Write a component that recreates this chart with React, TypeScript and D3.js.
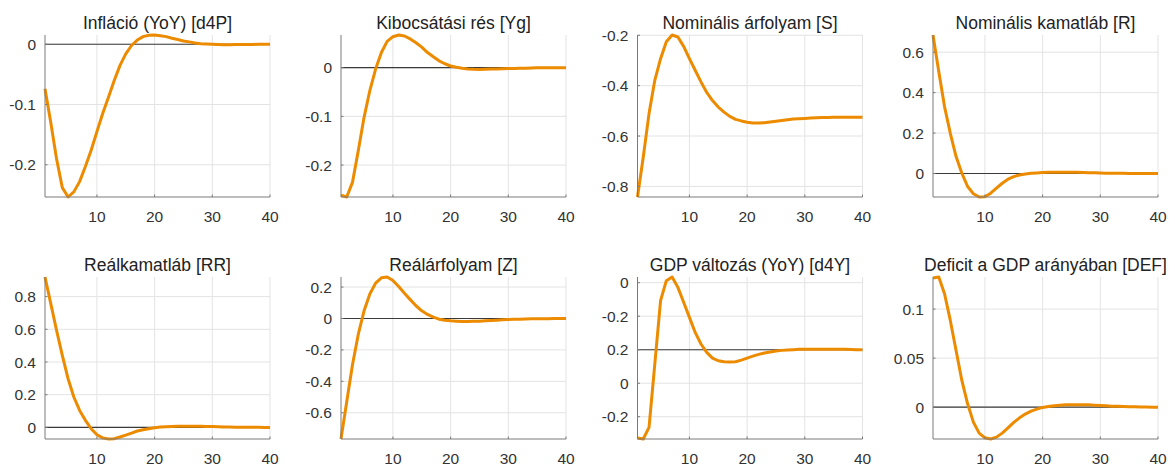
import React from "react";
import * as d3 from "d3";

// impulse responses, quarters 1..40
const periods = d3.range(1, 41);

const inflation = [
  -0.074, -0.13, -0.19, -0.238, -0.2535, -0.245, -0.228, -0.203, -0.176, -0.145,
  -0.115, -0.088, -0.06, -0.035, -0.016, -0.002, 0.007, 0.0127, 0.0149, 0.0154,
  0.014, 0.0127, 0.01, 0.008, 0.0055, 0.004, 0.002, 0.001, 0.0005, 0.0,
  -0.0004, -0.0006, -0.0006, -0.0005, -0.0004, -0.0003, -0.0002, -0.0001, 0, 0,
];

const outputGap = [
  -0.262, -0.2655, -0.235, -0.17, -0.102, -0.047, -0.003, 0.031, 0.054, 0.0635,
  0.067, 0.065, 0.059, 0.051, 0.042, 0.031, 0.0225, 0.014, 0.008, 0.0034,
  0.0007, -0.0014, -0.0027, -0.0034, -0.0037, -0.0034, -0.003, -0.0027, -0.0024, -0.002,
  -0.0017, -0.0013, -0.001, -0.0007, -0.0004, -0.0002, -0.0001, 0, 0, 0,
];

const nominalFx = [
  -0.842, -0.683, -0.511, -0.379, -0.293, -0.226, -0.199, -0.207, -0.244, -0.293,
  -0.339, -0.385, -0.427, -0.459, -0.485, -0.505, -0.522, -0.534, -0.54, -0.545,
  -0.548, -0.548, -0.547, -0.544, -0.541, -0.538, -0.535, -0.532, -0.531, -0.53,
  -0.5285, -0.527, -0.5265, -0.526, -0.5255, -0.525, -0.525, -0.525, -0.525, -0.525,
];

const nominalRate = [
  0.685, 0.504, 0.331, 0.199, 0.084, 0.0016, -0.064, -0.1, -0.116, -0.115,
  -0.097, -0.072, -0.048, -0.028, -0.015, -0.007, -0.002, 0.0016, 0.003, 0.005,
  0.0058, 0.006, 0.006, 0.006, 0.006, 0.0058, 0.005, 0.0041, 0.0033, 0.0025,
  0.0016, 0.0016, 0.0012, 0.001, 0.0008, 0.0006, 0.0004, 0.0002, 0.0001, 0,
];

const realRate = [
  0.92, 0.757, 0.594, 0.441, 0.298, 0.186, 0.104, 0.043, -0.008, -0.045,
  -0.064, -0.071, -0.069, -0.059, -0.047, -0.035, -0.022, -0.014, -0.008, -0.002,
  0.002, 0.004, 0.006, 0.007, 0.007, 0.007, 0.007, 0.007, 0.006, 0.005,
  0.004, 0.003, 0.002, 0.0015, 0.001, 0.0006, 0.0004, 0.0002, 0.0001, 0,
];

const realFx = [
  -0.767, -0.528, -0.293, -0.1, 0.049, 0.156, 0.225, 0.259, 0.264, 0.242,
  0.203, 0.16, 0.12, 0.081, 0.049, 0.026, 0.0086, -0.0043, -0.011, -0.015,
  -0.017, -0.019, -0.019, -0.018, -0.017, -0.015, -0.013, -0.011, -0.0086, -0.0064,
  -0.0053, -0.0043, -0.0032, -0.0021, -0.0021, -0.001, -0.001, -0.0005, -0.0005, 0,
];

const gdpGrowth = [
  -0.527, -0.533, -0.464, -0.086, 0.293, 0.412, 0.434, 0.372, 0.283, 0.193,
  0.103, 0.034, -0.016, -0.05, -0.066, -0.072, -0.074, -0.072, -0.062, -0.05,
  -0.038, -0.028, -0.02, -0.014, -0.008, -0.004, -0.002, 0, 0.002, 0.003,
  0.003, 0.003, 0.003, 0.003, 0.003, 0.003, 0.002, 0.001, 0, 0,
];

const deficit = [
  0.1316, 0.1327, 0.1156, 0.0884, 0.0578, 0.0272, 0.0034, -0.0153, -0.0265, -0.0313,
  -0.0325, -0.0306, -0.0265, -0.0211, -0.0156, -0.0109, -0.0071, -0.0041, -0.002, -0.0003,
  0.0007, 0.0014, 0.002, 0.0024, 0.0024, 0.0024, 0.0024, 0.0024, 0.002, 0.0017,
  0.0014, 0.001, 0.0009, 0.0007, 0.0005, 0.0003, 0.0002, 0.0001, 0, 0,
];

const titles = [
  "Infláció (YoY) [d4P]",
  "Kibocsátási rés [Yg]",
  "Nominális árfolyam [S]",
  "Nominális kamatláb [R]",
  "Reálkamatláb [RR]",
  "Reálárfolyam [Z]",
  "GDP változás (YoY) [d4Y]",
  "Deficit a GDP arányában [DEF]",
];

const series = [inflation, outputGap, nominalFx, nominalRate, realRate, realFx, gdpGrowth, deficit];

const yTicks = [
  [-0.2, -0.1, 0],
  [-0.2, -0.1, 0],
  [-0.8, -0.6, -0.4, -0.2],
  [0, 0.2, 0.4, 0.6],
  [0, 0.2, 0.4, 0.6, 0.8],
  [-0.6, -0.4, -0.2, 0, 0.2],
  [-0.4, -0.2, 0, 0.2, 0.4],
  [0, 0.05, 0.1],
];

// the GDP panel carries its own (odd) labels in the original
const yTickLabels: (string[] | null)[] = [
  null, null, null, null, null, null,
  ["-0.2", "0", "0.2", "-0.2", "0"],
  null,
];

const xTicks = [10, 20, 30, 40];

const colLeft = [45, 341, 637.5, 933];
const rowTop = [35, 277];
const plotW = 225;
const plotH = 162;

const lineColor = "#ED8B00";
const fontFamily = '"Liberation Sans", Arial, Helvetica, sans-serif';

function Panel({ idx }: { idx: number }) {
  const data = series[idx];
  const left = colLeft[idx % 4];
  const top = rowTop[Math.floor(idx / 4)];

  const x = d3.scaleLinear().domain([1, 40]).range([0, plotW]);
  const y = d3.scaleLinear().domain(d3.extent(data) as [number, number]).range([plotH, 0]);

  const line = d3
    .line<number>()
    .x((d, i) => x(periods[i]))
    .y((d) => y(d));

  const labels = yTickLabels[idx];
  const fmt = (v: number) => String(+v.toFixed(3));

  return (
    <g transform={`translate(${left},${top})`}>
      {/* grid */}
      {xTicks.map((t) => (
        <line key={"gx" + t} x1={x(t)} x2={x(t)} y1={0} y2={plotH} stroke="#e3e3e3" strokeWidth={1} />
      ))}
      {yTicks[idx].map((t) => (
        <line key={"gy" + t} x1={0} x2={plotW} y1={y(t)} y2={y(t)} stroke="#e3e3e3" strokeWidth={1} />
      ))}

      {/* zero line */}
      <line x1={0} x2={plotW} y1={y(0)} y2={y(0)} stroke="#3a3a3a" strokeWidth={1.1} />

      {/* response */}
      <path d={line(data) || ""} fill="none" stroke={lineColor} strokeWidth={3} strokeLinejoin="round" />

      {/* axes */}
      <line x1={0} x2={0} y1={0} y2={plotH} stroke="#7a7a7a" strokeWidth={1} />
      <line x1={0} x2={plotW} y1={plotH} y2={plotH} stroke="#7a7a7a" strokeWidth={1} />
      {xTicks.map((t) => (
        <g key={"tx" + t}>
          <line x1={x(t)} x2={x(t)} y1={plotH} y2={plotH - 2.5} stroke="#7a7a7a" />
          <text x={x(t)} y={plotH + 25} textAnchor="middle" fontSize={15.5} fill="#333">
            {t}
          </text>
        </g>
      ))}
      {yTicks[idx].map((t, i) => (
        <g key={"ty" + t}>
          <line x1={0} x2={2.5} y1={y(t)} y2={y(t)} stroke="#7a7a7a" />
          <text x={-9} y={y(t)} dy="0.36em" textAnchor="end" fontSize={15.5} fill="#333">
            {labels ? labels[i] : fmt(t)}
          </text>
        </g>
      ))}

      <text x={plotW / 2} y={-6.5} textAnchor="middle" fontSize={17.5} fill="#222">
        {titles[idx]}
      </text>
    </g>
  );
}

export default function App() {
  return (
    <svg
      width={1175}
      height={468}
      style={{ position: "absolute", left: 0, top: 0, background: "#fff" }}
      fontFamily={fontFamily}
    >
      <rect width={1175} height={468} fill="#fff" />
      {titles.map((_, i) => (
        <Panel key={i} idx={i} />
      ))}
    </svg>
  );
}
